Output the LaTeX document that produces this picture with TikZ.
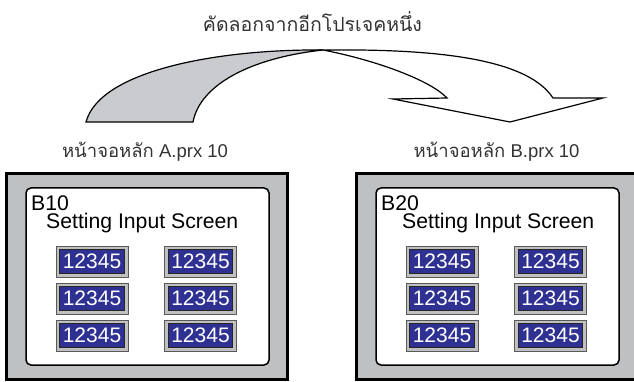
\documentclass[tikz,border=0pt]{standalone}
\usepackage{fontspec}
\setmainfont{Liberation Sans}
\newfontfamily\thaifont[Script=Thai]{Loma}
\definecolor{framegray}{RGB}{191,192,194}
\definecolor{ribbongray}{RGB}{201,203,207}
\definecolor{numblue}{RGB}{46,49,146}
\definecolor{numframe}{RGB}{192,192,192}
\definecolor{labeltext}{RGB}{51,51,51}
\begin{document}
\begin{tikzpicture}[x=1pt,y=-1pt,
  screen/.style={draw=black, line width=3pt, fill=framegray, inner sep=0pt},
  panel/.style={draw=black, line width=1.5pt, fill=white, rounded corners=5pt,
    minimum width=243pt, minimum height=177pt, inner sep=0pt},
  numouter/.style={draw=black!65, line width=0.8pt, fill=numframe,
    minimum width=72pt, minimum height=31pt, inner sep=0pt},
  numinner/.style={draw=black!85, line width=0.8pt, fill=numblue, text=white,
    minimum width=64.5pt, minimum height=24pt, inner sep=0pt,
    font=\fontsize{21}{21}\selectfont},
  bigtext/.style={inner sep=0pt, anchor=base west, font=\fontsize{21.2}{21.2}\selectfont},
  lbl/.style={inner sep=0pt, anchor=base, text=labeltext, font=\fontsize{18.5}{18.5}\selectfont},
  ttl/.style={inner sep=0pt, anchor=base, text=labeltext, font=\fontsize{19.5}{19.5}\selectfont},
  ribbon/.style={draw=black, line width=1.2pt, line join=miter}]
\clip (0,0) rectangle (634,382);

% title
\node[ttl] (title) at (312.5,32) {\thaifont คัดลอกจากอีกโปรเจคหนึ่ง};

% curved arrow
\coordinate (oL) at (86,122);
\coordinate (iL) at (193,122);
\coordinate (cx) at (323,50);
\coordinate (oR) at (553,98);
\coordinate (iR) at (447,98);
\coordinate (bL) at (393,99);
\coordinate (tip) at (510,122);
\coordinate (bR) at (603,98);
\draw[ribbon, fill=ribbongray] (oL) -- (iL) .. controls (200,85) and (250,58) .. (cx)
  .. controls (220,49) and (100,70) .. (oL) -- cycle;
\draw[ribbon, fill=white] (cx) .. controls (420,49) and (525,55) .. (oR) -- (bR) -- (tip)
  -- (bL) -- (iR) .. controls (430,80) and (375,60) .. (cx) -- cycle;

% labels
\node[lbl] (labA) at (145,158) {{\thaifont หน้าจอหลัก} A.prx 10};
\node[lbl] (labB) at (496.5,158) {{\thaifont หน้าจอหลัก} B.prx 10};

% screens
\node[screen, minimum width=280.5pt, minimum height=206pt] (scrA) at (146.75,276.5) {};
\node[screen, minimum width=283.5pt, minimum height=206pt] (scrB) at (498.25,276.5) {};
\node[panel] (panA) at (147.5,276.5) {};
\node[panel] (panB) at (497.5,276.5) {};

\node[bigtext] (idA) at (31,210.5) {B10};
\node[bigtext] (ttA) at (46,228.5) {Setting Input Screen};
\node[bigtext] (idB) at (381,210.5) {B20};
\node[bigtext] (ttB) at (402,228.5) {Setting Input Screen};

\foreach \sx/\sn in {0/A,350/B}{
  \foreach \cx/\cn in {92/1,200.5/2}{
    \foreach \ry/\rn in {261.5/1,298.5/2,335.5/3}{
      \node[numouter] (n\sn\cn\rn) at (\sx+\cx,\ry) {};
      \node[numinner] (v\sn\cn\rn) at (n\sn\cn\rn) {12345};
    }
  }
}
\end{tikzpicture}
\end{document}
